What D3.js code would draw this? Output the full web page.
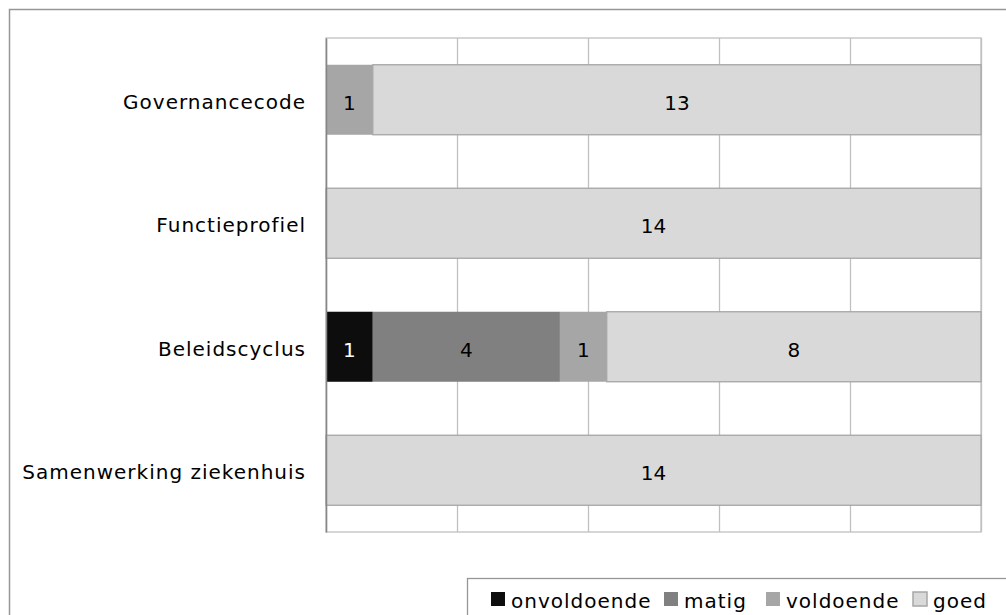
<!DOCTYPE html>
<html>
<head>
<meta charset="utf-8">
<script src="https://cdn.jsdelivr.net/npm/d3@7"></script>
<style>
  body { margin: 0; background: #fff; }
  text { font-family: "DejaVu Sans", Verdana, sans-serif; }
</style>
</head>
<body>
<div class="chart"></div>
<script>
const categories = ['Governancecode', 'Functieprofiel', 'Beleidscyclus', 'Samenwerking ziekenhuis'];
const seriesNames = ['onvoldoende', 'matig', 'voldoende', 'goed'];
const onvoldoende = [0, 0, 1, 0];
const matig = [0, 0, 4, 0];
const voldoende = [1, 0, 1, 0];
const goed = [13, 14, 8, 14];
const percentTicks = [0, 20, 40, 60, 80, 100];

const colors = {onvoldoende: '#0d0d0d', matig: '#808080', voldoende: '#a6a6a6', goed: '#d9d9d9'};

const width = 1006;
const height = 615;
const plot = {left: 326, top: 38, right: 981, bottom: 532};

const data = categories.map((c, i) => ({
	cat: c,
	onvoldoende: onvoldoende[i],
	matig: matig[i],
	voldoende: voldoende[i],
	goed: goed[i]
}));

const svg = d3.select('.chart').append('svg')
	.attr('width', width)
	.attr('height', height);

// outer chart border (runs past the window edge)
svg.append('rect')
	.attr('x', 9.5).attr('y', 9.5)
	.attr('width', 1040).attr('height', 660)
	.attr('fill', 'none')
	.attr('stroke', '#969696')
	.attr('stroke-width', 1.5);

const total = d3.max(data, d => seriesNames.reduce((s, k) => s + d[k], 0));

const xScale = d3.scaleLinear()
	.domain([0, total])
	.range([plot.left, plot.right]);

const pctScale = d3.scaleLinear()
	.domain([0, 100])
	.range([plot.left, plot.right]);

const yScale = d3.scaleBand()
	.domain(categories)
	.range([plot.top, plot.bottom])
	.paddingInner(0.433)
	.paddingOuter(0.2165);

// plot frame
svg.append('rect')
	.attr('x', plot.left).attr('y', plot.top)
	.attr('width', plot.right - plot.left)
	.attr('height', plot.bottom - plot.top)
	.attr('fill', '#fff')
	.attr('stroke', '#c0c0c0')
	.attr('stroke-width', 1.3);

// vertical gridlines
const xGrid = d3.axisBottom(pctScale)
	.tickValues(percentTicks)
	.tickSize(-(plot.bottom - plot.top))
	.tickFormat('');

svg.append('g')
	.attr('class', 'grid')
	.attr('transform', `translate(0, ${plot.bottom})`)
	.call(xGrid)
	.call(g => g.select('.domain').remove())
	.call(g => g.selectAll('line').attr('stroke', '#c0c0c0').attr('stroke-width', 1.3));

const stack = d3.stack().keys(seriesNames);
const stacked = stack(data);

const layers = svg.selectAll('.layer')
	.data(stacked)
	.enter()
	.append('g')
	.attr('class', 'layer')
	.attr('fill', d => colors[d.key]);

layers.selectAll('rect')
	.data(d => d.filter(p => p[1] - p[0] > 0).map(p => Object.assign(p, {key: d.key})))
	.enter()
	.append('rect')
	.attr('x', d => xScale(d[0]))
	.attr('y', d => yScale(d.data.cat))
	.attr('width', d => xScale(d[1]) - xScale(d[0]))
	.attr('height', yScale.bandwidth())
	.attr('stroke', d => d.key === 'goed' ? '#a6a6a6' : 'none')
	.attr('stroke-width', 1.3);

// value labels
layers.selectAll('.val')
	.data(d => d.filter(p => p[1] - p[0] > 0))
	.enter()
	.append('text')
	.attr('class', 'val')
	.attr('x', d => (xScale(d[0]) + xScale(d[1])) / 2)
	.attr('y', d => yScale(d.data.cat) + yScale.bandwidth() / 2)
	.attr('dy', '0.5em')
	.attr('text-anchor', 'middle')
	.attr('font-size', 20)
	.attr('fill', d => d.key === 'onvoldoende' ? '#fff' : '#000')
	.text(d => d[1] - d[0]);

// left axis with category labels
const yAxis = d3.axisLeft(yScale).tickSize(0).tickPadding(20);

svg.append('g')
	.attr('class', 'axis y-axis')
	.attr('transform', `translate(${plot.left}, 0)`)
	.call(yAxis)
	.call(g => g.select('.domain').attr('stroke', '#868686').attr('stroke-width', 1.5))
	.call(g => g.selectAll('text')
		.attr('font-size', 20)
		.attr('dy', '0.45em')
		.attr('letter-spacing', 1)
		.attr('fill', '#000')
		.attr('font-family', '"DejaVu Sans", Verdana, sans-serif'));

// legend
const legend = svg.append('g').attr('class', 'legend');
legend.append('rect')
	.attr('x', 467.5).attr('y', 578.5)
	.attr('width', 600).attr('height', 80)
	.attr('fill', '#fff')
	.attr('stroke', '#969696')
	.attr('stroke-width', 1.3);

const legendX = [491, 664, 766, 913];
const items = legend.selectAll('.item')
	.data(seriesNames)
	.enter()
	.append('g')
	.attr('class', 'item')
	.attr('transform', (d, i) => `translate(${legendX[i]}, 592)`);

items.append('rect')
	.attr('width', 14).attr('height', 14)
	.attr('fill', d => colors[d])
	.attr('stroke', d => d === 'goed' ? '#a6a6a6' : 'none')
	.attr('stroke-width', 1.5);

items.append('text')
	.attr('x', 20)
	.attr('y', 16)
	.attr('font-size', 20)
	.attr('letter-spacing', 1)
	.attr('fill', '#000')
	.text(d => d);
</script>
</body>
</html>
